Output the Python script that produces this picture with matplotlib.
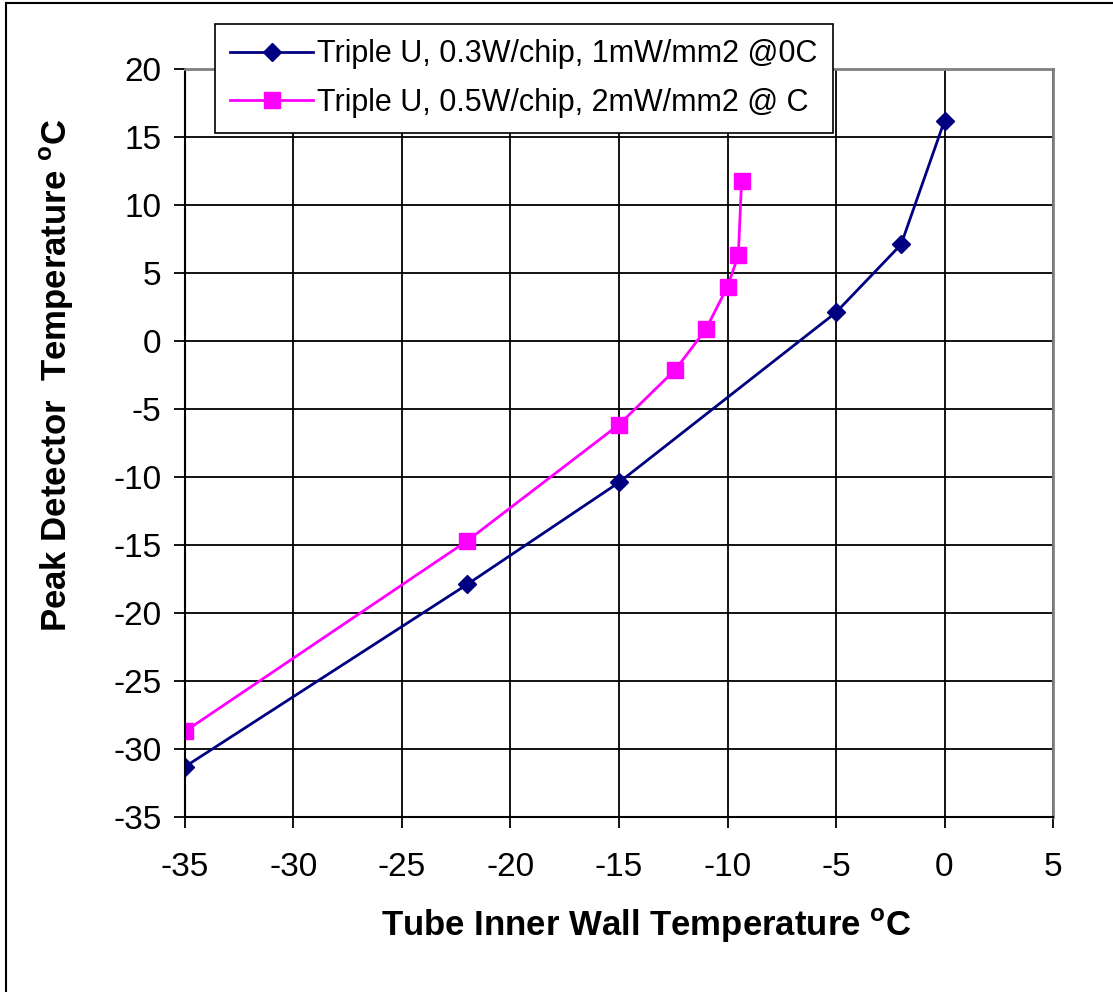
import matplotlib
matplotlib.use('Agg')
import matplotlib.pyplot as plt
from matplotlib.lines import Line2D

plt.rcParams['font.family'] = ['Liberation Sans', 'DejaVu Sans']
plt.rcParams['mathtext.fontset'] = 'custom'
plt.rcParams['mathtext.rm'] = 'Liberation Sans'
plt.rcParams['mathtext.bf'] = 'Liberation Sans:bold'
plt.rcParams['axes.unicode_minus'] = False

# series
wall_03 = [-35, -22, -15, -5, -2, 0]
peak_03 = [-31.3, -17.9, -10.4, 2.1, 7.1, 16.2]
wall_05 = [-35, -22, -15, -12.4, -11.0, -10.0, -9.5, -9.35]
peak_05 = [-28.7, -14.7, -6.15, -2.1, 0.85, 4.0, 6.3, 11.8]

label_03 = 'Triple U, 0.3W/chip, 1mW/mm2 @0C'
label_05 = 'Triple U, 0.5W/chip, 2mW/mm2 @ C'

xticks = list(range(-35, 10, 5))
yticks = list(range(-35, 25, 5))

fig = plt.figure(figsize=(11.13, 9.92), dpi=100)
ax = fig.add_axes([185/1113, 1 - 817/992, (1053 - 185)/1113, (817 - 69)/992])

ax.plot(wall_03, peak_03, color='#000080', lw=2, marker='D', ms=9.5,
        label=label_03)
ax.plot(wall_05, peak_05, color='#FF00FF', lw=2, marker='s', ms=11.5,
        label=label_05)

ax.set_xlim(-35, 5)
ax.set_ylim(-35, 20)
ax.set_xticks(xticks)
ax.set_yticks(yticks)
ax.grid(True, color='black', lw=1.3)
ax.set_axisbelow(True)
ax.tick_params(direction='out', length=8, width=1.3, labelsize=24, pad=17)
ax.tick_params(axis='y', pad=9)
for s in ['left', 'bottom']:
    ax.spines[s].set_color('black')
    ax.spines[s].set_linewidth(1.5)
for s in ['top', 'right']:
    ax.spines[s].set_color('#808080')
    ax.spines[s].set_linewidth(2)

ax.set_xlabel(r'Tube Inner Wall Temperature $^{\mathbf{o}}$C', fontsize=25,
              fontweight='bold')
ax.set_ylabel(r'Peak Detector  Temperature $^{\mathbf{o}}$C', fontsize=25,
              fontweight='bold')
ax.xaxis.set_label_coords(0.531, -0.120)
ax.yaxis.set_label_coords(-0.125, 0.59)

leg = ax.legend(loc='upper left', bbox_to_anchor=(30/868, 1.060),
                borderaxespad=0, fontsize=22, frameon=True, fancybox=False,
                handlelength=2.7, handletextpad=0.15, borderpad=0.5,
                labelspacing=0.6)
leg.get_frame().set_edgecolor('black')
leg.get_frame().set_linewidth(1.2)
leg.get_frame().set_alpha(1)

# outer frame of the chart
fig.add_artist(Line2D([6/1113, 6/1113], [0, 1 - 3/992], color='black', lw=1.5))
fig.add_artist(Line2D([6/1113, 1], [1 - 3/992, 1 - 3/992], color='black', lw=1.5))

fig.savefig('out.png', dpi=100)
